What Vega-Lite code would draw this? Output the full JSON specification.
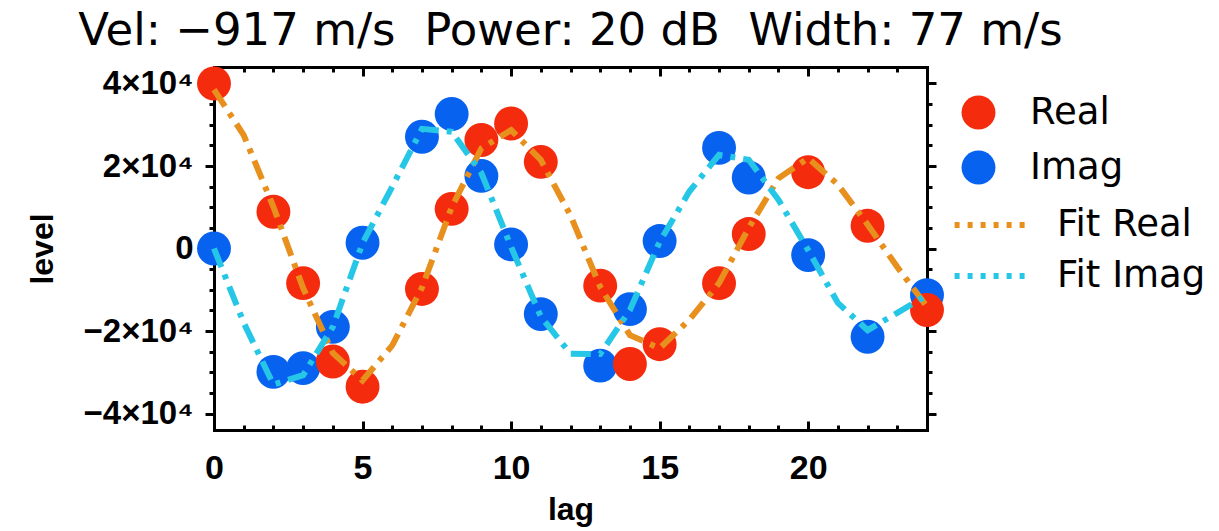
{
  "$schema": "https://vega.github.io/schema/vega-lite/v6.json",
  "width": 713,
  "height": 363,
  "autosize": {"type": "none"},
  "padding": {"left": 214, "top": 67, "right": 292, "bottom": 101},
  "background": "white",
  "config": {
    "view": {"stroke": null},
    "font": "DejaVu Sans",
    "axis": {"grid": false, "domainColor": "black", "tickColor": "black", "labelColor": "black", "titleColor": "black", "labelFont": "Liberation Sans", "titleFont": "Liberation Sans", "labelFontWeight": "bold", "titleFontWeight": "bold", "labelFlush": false, "labelOverlap": false, "domainCap": "square"},
    "legend": {"labelFont": "DejaVu Sans", "labelColor": "black"}
  },
  "title": {"text": "Vel: −917 m/s\u00a0 Power: 20 dB\u00a0 Width: 77 m/s", "font": "DejaVu Sans", "fontSize": 45, "fontWeight": "normal", "color": "black", "anchor": "middle", "frame": "group", "offset": 12},
  "datasets": {
    "points": [
      {"lag": 0, "series": "Real", "value": 40000},
      {"lag": 2, "series": "Real", "value": 8900},
      {"lag": 3, "series": "Real", "value": -8400},
      {"lag": 4, "series": "Real", "value": -27400},
      {"lag": 5, "series": "Real", "value": -33500},
      {"lag": 7, "series": "Real", "value": -9800},
      {"lag": 8, "series": "Real", "value": 9600},
      {"lag": 9, "series": "Real", "value": 26300},
      {"lag": 10, "series": "Real", "value": 30300},
      {"lag": 11, "series": "Real", "value": 21000},
      {"lag": 13, "series": "Real", "value": -9000},
      {"lag": 14, "series": "Real", "value": -28000},
      {"lag": 15, "series": "Real", "value": -23200},
      {"lag": 17, "series": "Real", "value": -8400},
      {"lag": 18, "series": "Real", "value": 3500},
      {"lag": 20, "series": "Real", "value": 18500},
      {"lag": 22, "series": "Real", "value": 5500},
      {"lag": 24, "series": "Real", "value": -14900},
      {"lag": 0, "series": "Imag", "value": 0},
      {"lag": 2, "series": "Imag", "value": -29900},
      {"lag": 3, "series": "Imag", "value": -29000},
      {"lag": 4, "series": "Imag", "value": -19000},
      {"lag": 5, "series": "Imag", "value": 1400},
      {"lag": 7, "series": "Imag", "value": 27100},
      {"lag": 8, "series": "Imag", "value": 32600},
      {"lag": 9, "series": "Imag", "value": 17600},
      {"lag": 10, "series": "Imag", "value": 1000},
      {"lag": 11, "series": "Imag", "value": -15900},
      {"lag": 13, "series": "Imag", "value": -28400},
      {"lag": 14, "series": "Imag", "value": -14700},
      {"lag": 15, "series": "Imag", "value": 1800},
      {"lag": 17, "series": "Imag", "value": 24400},
      {"lag": 18, "series": "Imag", "value": 17200},
      {"lag": 20, "series": "Imag", "value": -1600},
      {"lag": 22, "series": "Imag", "value": -21400},
      {"lag": 24, "series": "Imag", "value": -11300}
    ],
    "fit": [
      {"lag": 0, "series": "Fit Real", "value": 38500},
      {"lag": 1, "series": "Fit Real", "value": 27500},
      {"lag": 2, "series": "Fit Real", "value": 10100},
      {"lag": 3, "series": "Fit Real", "value": -9600},
      {"lag": 4, "series": "Fit Real", "value": -25300},
      {"lag": 5, "series": "Fit Real", "value": -32000},
      {"lag": 6, "series": "Fit Real", "value": -23500},
      {"lag": 7, "series": "Fit Real", "value": -9500},
      {"lag": 8, "series": "Fit Real", "value": 10000},
      {"lag": 9, "series": "Fit Real", "value": 24300},
      {"lag": 10, "series": "Fit Real", "value": 28700},
      {"lag": 11, "series": "Fit Real", "value": 21500},
      {"lag": 12, "series": "Fit Real", "value": 8000},
      {"lag": 13, "series": "Fit Real", "value": -9300},
      {"lag": 14, "series": "Fit Real", "value": -21000},
      {"lag": 15, "series": "Fit Real", "value": -24200},
      {"lag": 16, "series": "Fit Real", "value": -17300},
      {"lag": 17, "series": "Fit Real", "value": -8400},
      {"lag": 18, "series": "Fit Real", "value": 5000},
      {"lag": 19, "series": "Fit Real", "value": 17000},
      {"lag": 20, "series": "Fit Real", "value": 21900},
      {"lag": 21, "series": "Fit Real", "value": 15500},
      {"lag": 22, "series": "Fit Real", "value": 5800},
      {"lag": 23, "series": "Fit Real", "value": -4500},
      {"lag": 24, "series": "Fit Real", "value": -14100},
      {"lag": 0, "series": "Fit Imag", "value": 0},
      {"lag": 1, "series": "Fit Imag", "value": -18000},
      {"lag": 2, "series": "Fit Imag", "value": -33000},
      {"lag": 3, "series": "Fit Imag", "value": -30700},
      {"lag": 4, "series": "Fit Imag", "value": -19000},
      {"lag": 5, "series": "Fit Imag", "value": 1300},
      {"lag": 6, "series": "Fit Imag", "value": 15000},
      {"lag": 7, "series": "Fit Imag", "value": 29000},
      {"lag": 8, "series": "Fit Imag", "value": 28300},
      {"lag": 9, "series": "Fit Imag", "value": 18300},
      {"lag": 10, "series": "Fit Imag", "value": 400},
      {"lag": 11, "series": "Fit Imag", "value": -16500},
      {"lag": 12, "series": "Fit Imag", "value": -25500},
      {"lag": 13, "series": "Fit Imag", "value": -25600},
      {"lag": 14, "series": "Fit Imag", "value": -14900},
      {"lag": 15, "series": "Fit Imag", "value": 1600},
      {"lag": 16, "series": "Fit Imag", "value": 13800},
      {"lag": 17, "series": "Fit Imag", "value": 22700},
      {"lag": 18, "series": "Fit Imag", "value": 21500},
      {"lag": 19, "series": "Fit Imag", "value": 11800},
      {"lag": 20, "series": "Fit Imag", "value": -400},
      {"lag": 21, "series": "Fit Imag", "value": -13200},
      {"lag": 22, "series": "Fit Imag", "value": -19800},
      {"lag": 23, "series": "Fit Imag", "value": -15600},
      {"lag": 24, "series": "Fit Imag", "value": -11300}
    ]
  },
  "layer": [
    {
      "data": {"name": "points"},
      "transform": [{"filter": "datum.series == 'Imag'"}],
      "mark": {"type": "circle", "size": 1150, "opacity": 1},
      "encoding": {
        "x": {"field": "lag", "type": "quantitative", "scale": {"domain": [0, 24], "nice": false, "zero": false},
          "axis": {"orient": "bottom", "values": [0, 5, 10, 15, 20], "ticks": false, "domain": true, "domainWidth": 3, "labelFontSize": 34, "labelPadding": 21, "title": "lag", "titleFontSize": 32, "titlePadding": 9}},
        "y": {"field": "value", "type": "quantitative", "scale": {"domain": [-44000, 44000], "nice": false, "zero": false},
          "axis": {"orient": "left", "values": [-40000, -20000, 0, 20000, 40000], "tickSize": 9, "tickWidth": 3, "domain": true, "domainWidth": 3, "labelFontSize": 33, "labelPadding": 12, "labelExpr": "datum.value == 0 ? '0' : (datum.value < 0 ? '−' : '') + format(abs(datum.value) / 10000, 'd') + '×10⁴'", "title": "level", "titleFontSize": 32, "titlePadding": 24}},
        "color": {"field": "series", "type": "nominal", "scale": {"domain": ["Real", "Imag"], "range": ["#F52B0E", "#0862F0"]},
          "legend": {"orient": "none", "legendX": 746, "legendY": 27, "title": null, "symbolType": "circle", "symbolSize": 1150, "symbolStrokeWidth": 0, "symbolOpacity": 1, "labelFontSize": 37, "labelOffset": 33, "rowPadding": 17, "padding": 0}}
      }
    },
    {
      "data": {"name": "points"},
      "transform": [{"filter": "datum.series == 'Real'"}],
      "mark": {"type": "circle", "size": 1150, "opacity": 1},
      "encoding": {
        "x": {"field": "lag", "type": "quantitative",
          "axis": {"orient": "bottom", "values": [0, 5, 10, 15, 20], "tickSize": -9, "tickWidth": 3, "labels": false, "domain": false, "title": null}},
        "y": {"field": "value", "type": "quantitative",
          "axis": {"orient": "left", "values": [-40000, -35000, -30000, -25000, -20000, -15000, -10000, -5000, 0, 5000, 10000, 15000, 20000, 25000, 30000, 35000, 40000], "tickSize": 5, "tickWidth": 3, "labels": false, "domain": false, "title": null}},
        "color": {"field": "series", "type": "nominal",
          "legend": {"orient": "none", "legendX": 746, "legendY": 27, "title": null, "symbolType": "circle", "symbolSize": 1150, "symbolStrokeWidth": 0, "symbolOpacity": 1, "labelFontSize": 37, "labelOffset": 33, "rowPadding": 17, "padding": 0}}
      }
    },
    {
      "data": {"name": "fit"},
      "transform": [{"filter": "datum.series == 'Fit Real'"}],
      "mark": {"type": "line", "strokeWidth": 6, "strokeDash": [20, 8, 5, 8]},
      "encoding": {
        "x": {"field": "lag", "type": "quantitative",
          "axis": {"orient": "bottom", "values": [0, 1, 2, 3, 4, 5, 6, 7, 8, 9, 10, 11, 12, 13, 14, 15, 16, 17, 18, 19, 20, 21, 22, 23, 24], "tickSize": -5, "tickWidth": 3, "labels": false, "domain": false, "title": null}},
        "y": {"field": "value", "type": "quantitative",
          "axis": {"orient": "right", "values": [-40000, -20000, 0, 20000, 40000], "tickSize": 9, "tickWidth": 3, "labels": false, "domain": true, "domainWidth": 3, "title": null}},
        "stroke": {"field": "series", "type": "nominal", "scale": {"domain": ["Fit Real", "Fit Imag"], "range": ["#E8901E", "#26C6E6"]},
          "legend": {"orient": "none", "legendX": 758, "legendY": 138, "title": null, "symbolType": "M-2.2,0L2.2,0", "symbolSize": 1156, "symbolStrokeWidth": 6, "symbolDash": [5, 8], "labelFontSize": 37, "labelOffset": 45, "rowPadding": 13, "padding": 0}}
      }
    },
    {
      "data": {"name": "fit"},
      "transform": [{"filter": "datum.series == 'Fit Imag'"}],
      "mark": {"type": "line", "strokeWidth": 6, "strokeDash": [20, 8, 5, 8]},
      "encoding": {
        "x": {"field": "lag", "type": "quantitative",
          "axis": {"orient": "top", "values": [0, 5, 10, 15, 20], "tickSize": -9, "tickWidth": 3, "labels": false, "domain": true, "domainWidth": 3, "title": null}},
        "y": {"field": "value", "type": "quantitative",
          "axis": {"orient": "right", "values": [-40000, -35000, -30000, -25000, -20000, -15000, -10000, -5000, 0, 5000, 10000, 15000, 20000, 25000, 30000, 35000, 40000], "tickSize": 5, "tickWidth": 3, "labels": false, "domain": false, "title": null}},
        "stroke": {"field": "series", "type": "nominal",
          "legend": {"orient": "none", "legendX": 758, "legendY": 138, "title": null, "symbolType": "M-2.2,0L2.2,0", "symbolSize": 1156, "symbolStrokeWidth": 6, "symbolDash": [5, 8], "labelFontSize": 37, "labelOffset": 45, "rowPadding": 13, "padding": 0}}
      }
    },
    {
      "data": {"name": "points"},
      "mark": {"type": "circle", "opacity": 0},
      "encoding": {
        "x": {"field": "lag", "type": "quantitative",
          "axis": {"orient": "top", "values": [0, 1, 2, 3, 4, 5, 6, 7, 8, 9, 10, 11, 12, 13, 14, 15, 16, 17, 18, 19, 20, 21, 22, 23, 24], "tickSize": -5, "tickWidth": 3, "labels": false, "domain": false, "title": null}},
        "y": {"field": "value", "type": "quantitative", "axis": null}
      }
    }
  ],
  "resolve": {"axis": {"x": "independent", "y": "independent"}}
}
